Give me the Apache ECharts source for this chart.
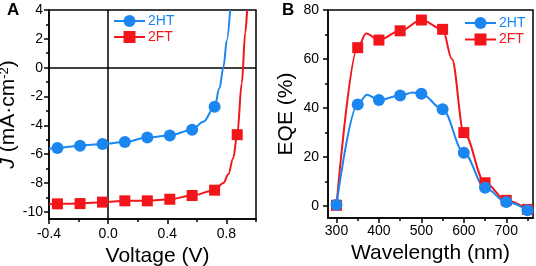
<!DOCTYPE html>
<html>
<head>
<meta charset="utf-8">
<script src="https://cdn.jsdelivr.net/npm/echarts@6/dist/echarts.min.js"></script>
<style>
html, body { margin: 0; padding: 0; background: #fff; }
#chart { width: 536px; height: 266px; }
</style>
</head>
<body>
<div id="chart"></div>
<script>
// A: J-V curves (voltage in V, current density in mA/cm2); marked = point drawn with a symbol
const jvHTVolt = [-0.4, -0.343, -0.19, -0.038, 0.113, 0.265, 0.417, 0.568, 0.644, 0.72, 0.753, 0.78, 0.803, 0.825];
const jvHTCurr = [-5.62, -5.57, -5.41, -5.3, -5.16, -4.85, -4.7, -4.3, -3.75, -2.71, -1.42, 0.05, 1.92, 4.0];
const jvHTMarked = [0, 1, 1, 1, 1, 1, 1, 1, 0, 1, 0, 0, 0, 0];

const jvFTVolt = [-0.4, -0.343, -0.19, -0.038, 0.113, 0.265, 0.417, 0.568, 0.72, 0.78, 0.813, 0.845, 0.873, 0.904, 0.927, 0.94];
const jvFTCurr = [-9.47, -9.45, -9.43, -9.33, -9.24, -9.24, -9.13, -8.87, -8.5, -8.0, -7.4, -6.3, -4.65, -1.07, 2.39, 4.0];
const jvFTMarked = [0, 1, 1, 1, 1, 1, 1, 1, 1, 0, 0, 0, 1, 0, 0, 0];

const jvXLabels = [-0.4, 0.0, 0.4, 0.8];
const jvXMinor = [-0.2, 0.2, 0.6, 1.0];
const jvYLabels = [-10, -8, -6, -4, -2, 0, 2, 4];
const jvYMinor = [-9, -7, -5, -3, -1, 1, 3];

// B: EQE spectra (wavelength in nm, EQE in %)
const eqeHTWave = [300, 350, 372, 400, 450, 480, 500, 550, 600, 650, 700, 750];
const eqeHTVal = [0.4, 41.4, 45.4, 43.2, 45.1, 46.3, 45.8, 39.4, 21.7, 7.4, 1.5, -1.8];
const eqeHTMarked = [1, 1, 0, 1, 1, 0, 1, 1, 1, 1, 1, 1];

const eqeFTWave = [300, 350, 370, 400, 450, 500, 550, 572, 600, 650, 700, 750];
const eqeFTVal = [0.2, 64.6, 70.4, 67.7, 71.5, 75.9, 72.1, 60, 29.9, 9.4, 2.2, -1.5];
const eqeFTMarked = [1, 1, 0, 1, 1, 1, 1, 0, 1, 1, 1, 1];

const eqeXLabels = [300, 400, 500, 600, 700];
const eqeXMinor = [350, 450, 550, 650, 750];
const eqeYLabels = [0, 20, 40, 60, 80];
const eqeYMinor = [10, 30, 50, 70];

const blue = '#1b86ef';
const red = '#f2161b';
const font = 'Liberation Sans, Arial, sans-serif';

function pts(xs, ys, marked) {
  return xs.map((x, i) => (marked[i] ? [x, ys[i]] : { value: [x, ys[i]], symbol: 'none' }));
}

function mainAxis(gridIndex, pos, min, max, labels, fmt, margin, name, gap) {
  return {
    type: 'value',
    gridIndex: gridIndex,
    position: pos,
    min: min,
    max: max,
    axisLine: { show: true, onZero: false, lineStyle: { color: '#000', width: 1.5 } },
    axisTick: { show: true, length: 5, customValues: labels, lineStyle: { color: '#000', width: 1.5 } },
    axisLabel: {
      customValues: labels, color: '#000', fontSize: 14, fontFamily: font, margin: margin,
      formatter: fmt,
    },
    splitLine: { show: false },
    name: name,
    nameLocation: 'middle',
    nameGap: gap,
    nameTextStyle: { color: '#000', fontSize: 21, fontFamily: font },
  };
}

function minorAxis(gridIndex, pos, min, max, ticks) {
  return {
    type: 'value',
    gridIndex: gridIndex,
    position: pos,
    offset: 0,
    min: min,
    max: max,
    axisLine: { show: false, onZero: false },
    axisTick: { show: true, length: 3, customValues: ticks, lineStyle: { color: '#000', width: 1.5 } },
    axisLabel: { show: false },
    splitLine: { show: false },
  };
}

function series(name, xi, yi, data, color, symbol, size) {
  return {
    name: name,
    type: 'line',
    xAxisIndex: xi,
    yAxisIndex: yi,
    data: data,
    smooth: 0.35,
    smoothMonotone: 'x',
    symbol: symbol,
    symbolSize: size,
    showAllSymbol: true,
    color: color,
    lineStyle: { width: 2, color: color },
    itemStyle: { color: color },
  };
}

const chart = echarts.init(document.getElementById('chart'));

const xA = mainAxis(0, 'bottom', -0.4, 1.0, jvXLabels, (v) => v.toFixed(1), 8, 'Voltage (V)', 23);
xA.nameTextStyle.padding = [0, 0, 0, 10];
const yA = mainAxis(0, 'left', -10.5, 4, jvYLabels, (v) => String(v), 6, '{i|J} (mA·cm{s|-2})', 26);
yA.nameTextStyle.rich = {
  i: { fontStyle: 'italic', fontSize: 21, fontFamily: font, color: '#000' },
  s: { fontSize: 13, fontFamily: font, color: '#000', verticalAlign: 'top' },
};
const xB = mainAxis(1, 'bottom', 280, 763, eqeXLabels, (v) => String(v), 6, 'Wavelength (nm)', 24);
const yB = mainAxis(1, 'left', -5, 80, eqeYLabels, (v) => String(v), 9, 'EQE (%)', 31);

const htA = series('2HT', 0, 0, pts(jvHTVolt, jvHTCurr, jvHTMarked), blue, 'circle', 12);
htA.markLine = {
  silent: true,
  symbol: 'none',
  z: 1,
  label: { show: false },
  lineStyle: { color: '#000', width: 1.5, type: 'solid' },
  data: [{ xAxis: 0 }, { yAxis: 0 }],
};

const legendBase = {
  orient: 'vertical',
  itemWidth: 31,
  itemHeight: 15,
  padding: 0,
  textStyle: { fontSize: 14, fontFamily: font, padding: [0, 0, 0, -2] },
  data: [
    { name: '2HT', textStyle: { color: blue } },
    { name: '2FT', textStyle: { color: red } },
  ],
};

const option = {
  animation: false,
  title: [
    { text: 'A', left: 7, top: 2, padding: 0, textStyle: { fontSize: 17, fontWeight: 'bold', fontFamily: font, color: '#000' } },
    { text: 'B', left: 282, top: 2, padding: 0, textStyle: { fontSize: 17, fontWeight: 'bold', fontFamily: font, color: '#000' } },
  ],
  legend: [
    Object.assign({}, legendBase, { left: 113, top: 14, itemGap: 2 }),
    Object.assign({}, legendBase, { left: 464, top: 16, itemGap: 2.5 }),
  ],
  grid: [
    { left: 49, top: 10, width: 207, height: 209, show: true, borderColor: '#000', borderWidth: 1.5, outerBoundsMode: 'none' },
    { left: 328, top: 10, width: 205, height: 208, show: true, borderColor: '#000', borderWidth: 1.5, outerBoundsMode: 'none' },
  ],
  xAxis: [
    xA,
    minorAxis(0, 'bottom', -0.4, 1.0, jvXMinor),
    xB,
    minorAxis(1, 'bottom', 280, 763, eqeXMinor),
  ],
  yAxis: [
    yA,
    minorAxis(0, 'left', -10.5, 4, jvYMinor),
    yB,
    minorAxis(1, 'left', -5, 80, eqeYMinor),
  ],
  series: [
    htA,
    series('2FT', 0, 0, pts(jvFTVolt, jvFTCurr, jvFTMarked), red, 'rect', 11),
    series('2FT', 2, 2, pts(eqeFTWave, eqeFTVal, eqeFTMarked), red, 'rect', 11),
    series('2HT', 2, 2, pts(eqeHTWave, eqeHTVal, eqeHTMarked), blue, 'circle', 12),
  ],
};

chart.setOption(option);
</script>
</body>
</html>
